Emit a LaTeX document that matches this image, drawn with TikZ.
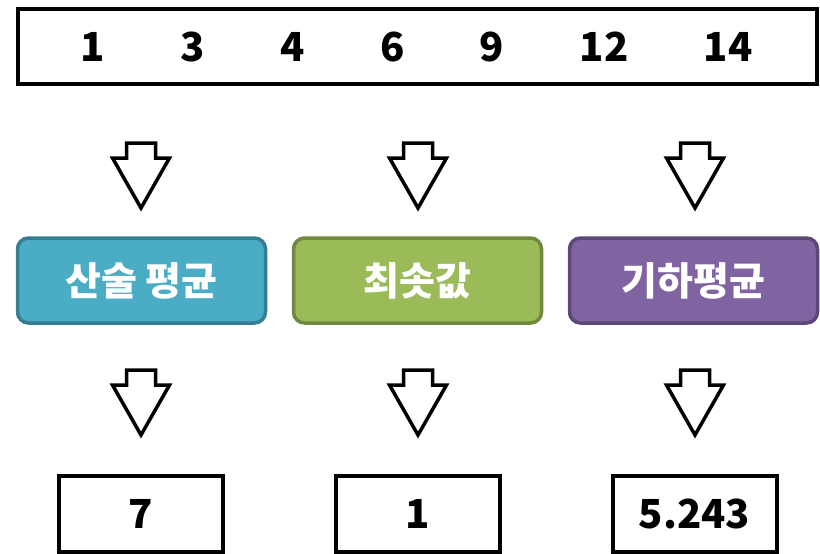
\documentclass[tikz,border=0pt]{standalone}
\usepackage{fontspec}
\setmainfont{Noto Sans CJK KR}
\begin{document}
\begin{tikzpicture}[x=1pt,y=-1pt,
  numfont/.style={font=\fontsize{40}{48}\selectfont\bfseries},
  korfont/.style={font=\fontsize{39}{46}\selectfont\bfseries, text=white},
  topbox/.style={draw=black, line width=4pt, minimum width=799pt, minimum height=75pt, inner sep=0pt},
  resbox/.style={draw=black, line width=4pt, minimum width=164pt, minimum height=76pt, inner sep=0pt, numfont},
  catbox/.style={rounded corners=11pt, line width=3.5pt, minimum width=248pt, minimum height=85pt, inner sep=0pt, korfont},
  arrowline/.style={draw=black, line width=3.5pt, fill=white, line join=miter},
  blockarrow/.pic={\path[arrowline] (-14.5,0) -- (14.5,0) -- (14.5,15) -- (28.5,15) -- (0,65) -- (-28.5,15) -- (-14.5,15) -- cycle;}
]
\definecolor{bluefill}{HTML}{4BACC6}\definecolor{blueline}{HTML}{357D91}
\definecolor{greenfill}{HTML}{9BBB59}\definecolor{greenline}{HTML}{71893F}
\definecolor{purplefill}{HTML}{8064A2}\definecolor{purpleline}{HTML}{5C4776}
\useasboundingbox (0,0) rectangle (820,554);

\node[topbox] (top) at (417.5,46.5) {};
\foreach \v/\x [count=\i] in {1/93,3/193,4/293,6/393,9/492,12/604,14/728}
  \node[numfont, anchor=center] (n\i) at (\x,47) {\v};

\node[catbox, fill=bluefill, draw=blueline] (mean) at (141.5,280.5) {산술 평균};
\node[catbox, fill=greenfill, draw=greenline] (min) at (417.5,280.5) {최솟값};
\node[catbox, fill=purplefill, draw=purpleline] (geo) at (693.5,280.5) {기하평균};

\node[resbox] (r1) at (141,513.5) {7};
\node[resbox] (r2) at (417.5,513.5) {1};
\node[resbox] (r3) at (694.5,513.5) {5.243};

\foreach \x in {141,418,695} {
  \pic at (\x,143) {blockarrow};
  \pic at (\x,370) {blockarrow};
}
\end{tikzpicture}
\end{document}
